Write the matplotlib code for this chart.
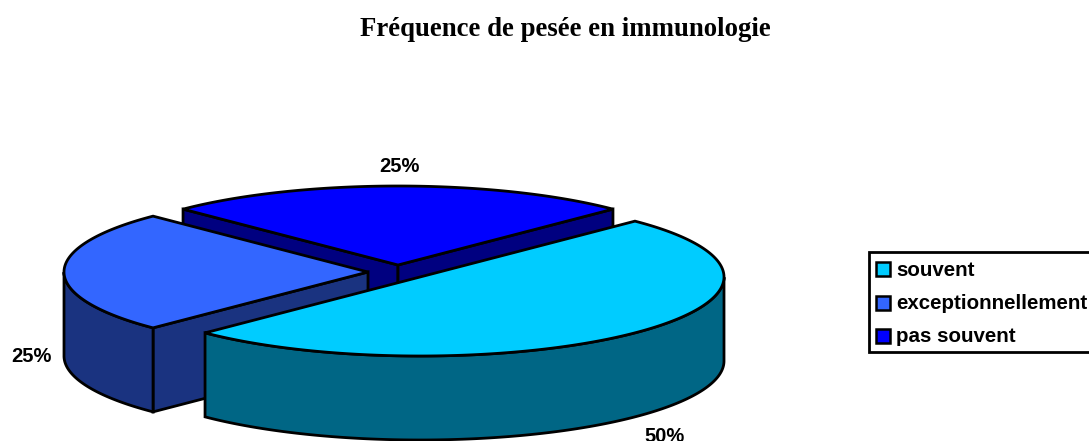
import numpy as np
import matplotlib
matplotlib.use('Agg')
import matplotlib.pyplot as plt
from matplotlib.patches import Polygon, Rectangle

title = 'Fréquence de pesée en immunologie'
labels = ['souvent', 'exceptionnellement', 'pas souvent']
values = [50, 25, 25]
top_colors = ['#00CCFF', '#3366FF', '#0000FF']
side_colors = ['#006685', '#1A3380', '#000080']

# apex of each exploded slice, in pixels
apex = [(420, 277), (368, 272), (398, 265)]
label_pos = [(665, 437), (31, 357), (399, 167)]
rx, ry = 304, 79
depth = 84
start = 45  # the souvent slice starts here and runs clockwise
lw = 2.0


def rim(cx, cy, t):
    return np.column_stack([cx + rx*np.cos(t), cy - ry*np.sin(t)])


def side(pts, color):
    # extrude a line of points down by the pie depth
    poly = np.vstack([pts, (pts + [0, depth])[::-1]])
    ax.add_patch(Polygon(poly, closed=True, fc=color, ec='black', lw=lw, joinstyle='miter'))


plt.rcParams['font.family'] = ['Liberation Sans', 'DejaVu Sans']
fig = plt.figure(figsize=(10.89, 4.41), dpi=100)
ax = fig.add_axes([0, 0, 1, 1])
ax.set_xlim(0, 1089)
ax.set_ylim(441, 0)
ax.axis('off')

# angle range of each slice
a1s, a2s = [], []
a = start
for v in values:
    a1s.append(a)
    a = a - v/sum(values)*360
    a2s.append(a)

# back slice first, the front one last
for i in [2, 1, 0]:
    cx, cy = apex[i]
    a1, a2 = np.radians(a1s[i]), np.radians(a2s[i])
    t = np.linspace(a1, a2, 300)
    pts = rim(cx, cy, t)
    # cut faces, only those turned towards the viewer
    if np.sin(a1 + np.pi/2) < 0:
        side(np.array([pts[0], (cx, cy)]), side_colors[i])
    if np.sin(a2 - np.pi/2) < 0:
        side(np.array([(cx, cy), pts[-1]]), side_colors[i])
    # outer wall, front half of the rim
    front = np.sin(t) < 0
    if front.sum() > 1:
        side(pts[front], side_colors[i])
    ax.add_patch(Polygon(np.vstack([[(cx, cy)], pts]), closed=True, fc=top_colors[i], ec='black', lw=lw, joinstyle='miter'))

for i in range(len(values)):
    ax.text(label_pos[i][0], label_pos[i][1], '%d%%' % values[i], fontsize=14.5, fontweight='bold',
            ha='center', va='center')

ax.text(565, 30, title, fontsize=19.3, fontweight='bold', family='Liberation Serif', ha='center', va='center')

# legend box runs off the right edge in the original
ax.add_patch(Rectangle((869, 252), 240, 100, fc='white', ec='black', lw=2))
for i in range(len(labels)):
    y = 269 + i*33.5
    ax.add_patch(Rectangle((876, y-7), 14, 14, fc=top_colors[i], ec='black', lw=1.8))
    ax.text(896, y + 1, labels[i], fontsize=14.8, fontweight='bold', ha='left', va='center')

fig.savefig('out.png', dpi=100)
